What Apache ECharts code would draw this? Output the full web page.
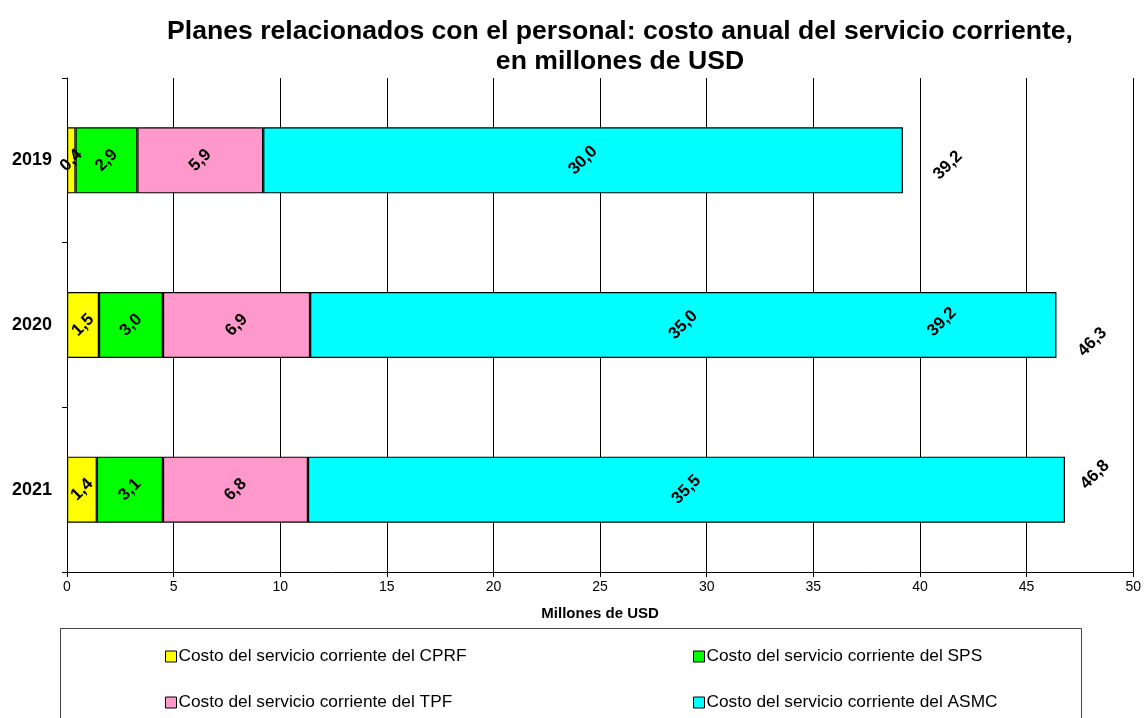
<!DOCTYPE html>
<html>
<head>
<meta charset="utf-8">
<script src="https://cdn.jsdelivr.net/npm/echarts@6/dist/echarts.min.js"></script>
<style>
html,body{margin:0;padding:0;background:#fff;}
#chart{width:1144px;height:718px;}
</style>
</head>
<body>
<div id="chart"></div>
<script>
// ---- Data ----
const categories = ['2019', '2020', '2021'];
const seriesNames = [
  'Costo del servicio corriente del CPRF',
  'Costo del servicio corriente del SPS',
  'Costo del servicio corriente del TPF',
  'Costo del servicio corriente del ASMC'
];
const cprf = [0.4, 1.5, 1.4];
const sps = [2.9, 3.0, 3.1];
const tpf = [5.9, 6.9, 6.8];
const asmc = [30.0, 35.0, 35.5];
const totals = [39.2, 46.3, 46.8];
// a leftover total label that appears inside the 2020 bar in the original
const strayLabelValue = 39.2;
const strayLabelCategory = '2020';
const xTicks = [0, 5, 10, 15, 20, 25, 30, 35, 40, 45, 50];

// ---- Styles ----
const colors = ['#FFFF00', '#00FF00', '#FF99CC', '#00FFFF'];
const FONT = "'Liberation Sans', Arial, sans-serif";
const ROT = 45;
// desired on-screen label shifts (px) from the bar end
const totalShifts = [[45, 5], [38, 17], [30, -15]];
const strayShift = [39, -3];

// ECharts rotates the label offset together with the text; undo that
function unrotate(d) {
  const a = ROT * Math.PI / 180;
  const c = Math.cos(a), s = Math.sin(a);
  return [d[0] * c - d[1] * s, d[0] * s + d[1] * c];
}

const fmt = v => v.toFixed(1).replace('.', ',');

const labelBase = {
  show: true,
  position: 'inside',
  rotate: ROT,
  color: '#000',
  opacity: 1,
  fontFamily: FONT,
  fontWeight: 'bold',
  fontSize: 17
};

const valueSets = [cprf, sps, tpf, asmc];
const barSeries = valueSets.map((vals, i) => ({
  name: seriesNames[i],
  type: 'bar',
  stack: 'total',
  barWidth: 66,
  data: vals,
  itemStyle: { color: colors[i], borderColor: '#000', borderWidth: 1.2 },
  label: Object.assign({}, labelBase, { formatter: p => fmt(p.value) }),
  z: 3
}));

const totalSeries = {
  name: 'totals',
  type: 'scatter',
  symbolSize: 1,
  itemStyle: { opacity: 0 },
  data: totals.map((t, i) => ({
    value: [t, categories[i]],
    label: { offset: unrotate(totalShifts[i]) }
  })).concat([{
    value: [strayLabelValue, strayLabelCategory],
    label: { offset: unrotate(strayShift) }
  }]),
  label: Object.assign({}, labelBase, { formatter: p => fmt(p.value[0]) }),
  emphasis: { disabled: true },
  z: 5,
  silent: true
};

const legendCommon = {
  orient: 'vertical',
  top: 643,
  itemGap: 29,
  itemWidth: 11,
  itemHeight: 11,
  icon: 'rect',
  itemStyle: { borderColor: '#000', borderWidth: 1 },
  textStyle: { fontFamily: FONT, fontSize: 17.3, color: '#000', padding: [0, 0, 0, -3] }
};

const chart = echarts.init(document.getElementById('chart'), null, { renderer: 'canvas' });
chart.setOption({
  animation: false,
  backgroundColor: '#fff',
  title: {
    text: 'Planes relacionados con el personal: costo anual del servicio corriente,\nen millones de USD',
    left: 615,
    top: 12,
    textAlign: 'center',
    textStyle: {
      fontFamily: FONT,
      fontWeight: 'bold',
      fontSize: 26.6,
      lineHeight: 30,
      color: '#000'
    }
  },
  grid: { left: 67, right: 8, top: 78, bottom: 146, containLabel: false },
  xAxis: {
    type: 'value',
    min: xTicks[0],
    max: xTicks[xTicks.length - 1],
    interval: 5,
    name: 'Millones de USD',
    nameLocation: 'middle',
    nameGap: 34,
    nameTextStyle: { fontFamily: FONT, fontWeight: 'bold', fontSize: 15, color: '#000' },
    axisLine: { show: true, lineStyle: { color: '#000', width: 1 } },
    axisTick: { show: true, length: 5, lineStyle: { color: '#000' } },
    axisLabel: { fontFamily: FONT, fontSize: 14, color: '#000', margin: 8 },
    splitLine: { show: true, lineStyle: { color: '#000', width: 1 } }
  },
  yAxis: {
    type: 'category',
    data: categories,
    inverse: true,
    axisLine: { show: true, lineStyle: { color: '#000', width: 1 } },
    axisTick: { show: true, length: 5, lineStyle: { color: '#000' } },
    axisLabel: { fontFamily: FONT, fontWeight: 'bold', fontSize: 18, color: '#000', margin: 15 },
    splitLine: { show: false }
  },
  legend: [
    Object.assign({}, legendCommon, { data: [seriesNames[0], seriesNames[2]], left: 160 }),
    Object.assign({}, legendCommon, { data: [seriesNames[1], seriesNames[3]], left: 688 })
  ],
  graphic: [{
    type: 'rect',
    shape: { x: 60.5, y: 628.5, width: 1021, height: 120 },
    style: { fill: 'none', stroke: '#444', lineWidth: 1 },
    silent: true
  }],
  series: barSeries.concat([totalSeries])
});
</script>
</body>
</html>
